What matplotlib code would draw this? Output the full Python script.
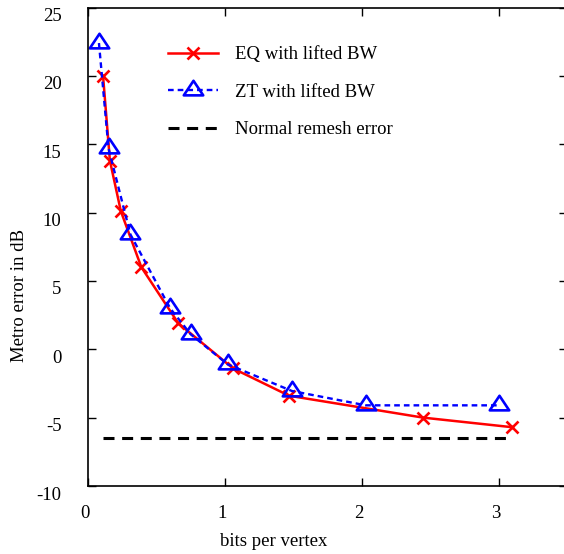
import matplotlib
matplotlib.use("Agg")
import matplotlib.pyplot as plt
from matplotlib.path import Path
from matplotlib.transforms import ScaledTranslation

# Data
eq_x = [0.11, 0.16, 0.24, 0.39, 0.66, 1.06, 1.47, 2.45, 3.10]
eq_y = [20.0, 13.8, 10.1, 6.0, 1.9, -1.4, -3.4, -5.0, -5.7]
zt_x = [0.08, 0.15, 0.31, 0.60, 0.75, 1.02, 1.49, 2.03, 3.00]
zt_y = [22.4, 14.7, 8.4, 3.0, 1.1, -1.1, -3.05, -4.1, -4.1]
remesh_x = [0.11, 3.09]
remesh_y = [-6.5, -6.5]
labels = ["EQ with lifted BW", "ZT with lifted BW", "Normal remesh error"]
xticks = [0, 1, 2, 3]
yticks = [-10, -5, 0, 5, 10, 15, 20, 25]

plt.rcParams['font.family'] = ['Liberation Serif', 'DejaVu Serif']
plt.rcParams['font.size'] = 13.5
plt.rcParams['axes.unicode_minus'] = False

W, H = 564, 554
fig = plt.figure(figsize=(W / 100, H / 100), dpi=100)
left, right, top, bottom = 88, 567, 7.5, 486
ax = fig.add_axes([left / W, (H - bottom) / H, (right - left) / W, (bottom - top) / H])

# triangle marker with centroid at origin
tri = Path([(0, 10), (-10, -5), (10, -5), (0, 10)],
           [Path.MOVETO, Path.LINETO, Path.LINETO, Path.CLOSEPOLY])

ax.plot(eq_x, eq_y, color='#ff0000', lw=1.8, marker='x', markersize=8,
        markeredgewidth=1.9, label=labels[0])
ax.plot(zt_x, zt_y, color='#0000ff', lw=1.7, ls=(0, (2.4, 1.7)), marker=tri,
        markersize=14, markerfacecolor='none', markeredgewidth=1.9, label=labels[1])
ax.plot(remesh_x, remesh_y, color='black', lw=2.2, ls=(0, (3.6, 2.5)), label=labels[2])

ax.set_xlim(0, 3.5)
ax.set_ylim(-10, 25)
ax.set_xticks(xticks)
ax.set_yticks(yticks)
ax.tick_params(direction='in', length=6, width=1, top=True, right=True,
               labelsize=13.5)
ax.tick_params(axis='y', pad=19)
ax.tick_params(axis='x', pad=14)
for s in ax.spines.values():
    s.set_linewidth(1.2)

dpi = fig.dpi
for lab in ax.get_yticklabels():
    lab.set_transform(lab.get_transform() + ScaledTranslation(0, -7 / dpi, fig.dpi_scale_trans))
for lab in ax.get_xticklabels():
    lab.set_transform(lab.get_transform() + ScaledTranslation(-3 / dpi, 0, fig.dpi_scale_trans))

fig.text(274 / W, 1 - 541 / H, "bits per vertex", ha='center', va='center', fontsize=13.5)
fig.text(20 / W, 1 - 295 / H, "Metro error in dB", ha='center', va='center',
         rotation=90, fontsize=13.5)

leg = ax.legend(loc='upper left', bbox_to_anchor=(168 / W, 1 - 46 / H),
                bbox_transform=fig.transFigure, frameon=False, numpoints=1,
                handlelength=2.67, handletextpad=0.9, labelspacing=1.09,
                borderpad=0, borderaxespad=0, fontsize=13.5)

fig.savefig("out.png", dpi=100)
